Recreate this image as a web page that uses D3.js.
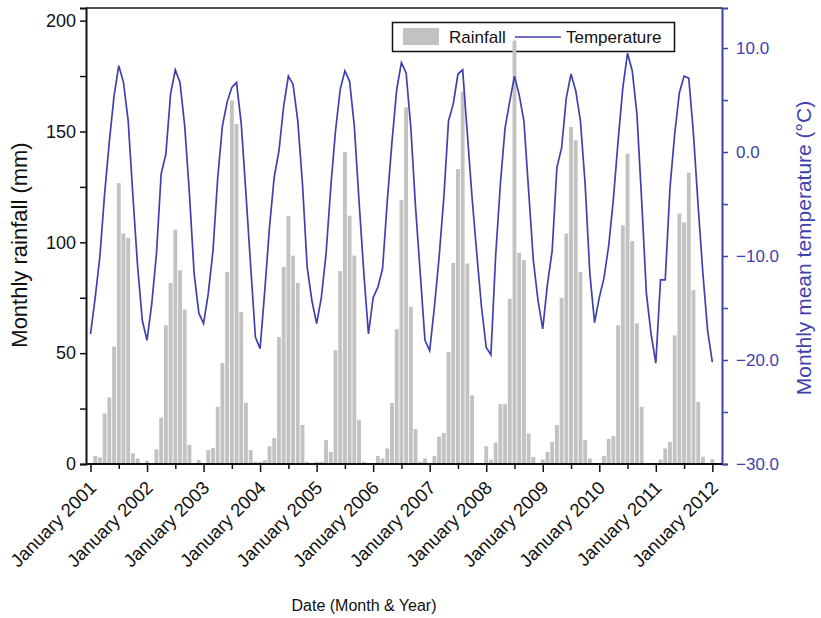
<!DOCTYPE html>
<html>
<head>
<meta charset="utf-8">
<script src="https://cdn.jsdelivr.net/npm/d3@7"></script>
<style>
  body { margin: 0; background: #fff; }
  text { font-family: "Liberation Sans", Arial, sans-serif; }
</style>
</head>
<body>
<svg id="chart"></svg>
<script>
// years shown on the x axis (one label each January)
const years = [2001, 2002, 2003, 2004, 2005, 2006, 2007, 2008, 2009, 2010, 2011, 2012];

// monthly rainfall (mm), Jan 2001 .. Jan 2012
const rainfall = [
  0, 3.6, 3, 22.8, 30, 53, 126.7, 104, 102, 4.8, 2.5, 0,
  1.5, 0, 6.6, 20.9, 62.6, 81.7, 105.7, 87.4, 69.7, 8.6, 0, 1.8,
  0, 6.3, 7.2, 25.8, 45.6, 86.6, 164, 153.4, 68.6, 27.6, 6.3, 1,
  1, 1.8, 8, 11.7, 57.3, 88.9, 112, 94, 81.7, 17.6, 1, 0,
  1, 1, 10.8, 5.5, 51.3, 87, 140.7, 112, 94, 19.8, 1, 0,
  0, 3.6, 2.5, 7, 27.5, 60.8, 119, 160.9, 70.9, 15.8, 1, 2.5,
  0, 3.6, 12.3, 14, 50.5, 90.7, 133, 168, 90.4, 31, 0, 0.5,
  8, 2, 9.6, 27, 27, 74.6, 191, 95.3, 92, 13.8, 3.2, 0,
  2, 5.5, 10, 17.6, 75, 104, 152, 146, 86.6, 10.8, 2.5, 0,
  0, 3.6, 11.3, 12.6, 62.6, 107.7, 140, 100.5, 63.4, 25.8, 0, 0,
  0, 2, 7, 10, 58, 113, 109, 131.4, 78.4, 28, 3.3, 0,
  2.2
];

// monthly mean temperature (°C), Jan 2001 .. Jan 2012
const temperature = [
  -17.5, -14.0, -10.0, -4.0, 1.0, 5.4, 8.3, 6.7, 3.0, -4.2, -11.0, -16.2,
  -18.1, -14.6, -9.8, -2.1, -0.2, 5.6, 7.9, 6.7, 2.5, -4.0, -11.7, -15.5,
  -16.5, -13.6, -9.5, -2.5, 2.5, 4.8, 6.2, 6.7, 2.7, -4.0, -11.0, -17.8,
  -18.9, -13.3, -7.2, -2.4, 0.1, 4.4, 7.3, 6.5, 3.0, -3.1, -11.1, -14.3,
  -16.5, -14.0, -9.8, -3.4, 2.0, 6.0, 7.8, 6.8, 2.5, -4.7, -11.5, -17.5,
  -14.0, -13.0, -11.2, -4.7, 1.0, 6.0, 8.6, 7.6, 2.3, -5.3, -11.7, -18.1,
  -19.1, -14.9, -10.1, -4.4, 3.0, 4.6, 7.5, 7.9, 1.7, -4.4, -9.8, -14.9,
  -18.8, -19.5, -10.0, -3.1, 2.3, 4.9, 7.3, 5.5, 3.0, -3.7, -10.4, -14.3,
  -17.0, -12.7, -9.5, -1.5, 0.4, 5.2, 7.5, 5.9, 3.0, -3.1, -11.7, -16.4,
  -14.0, -12.1, -9.0, -4.5, 1.1, 6.2, 9.5, 7.8, 3.6, -4.7, -13.6, -17.5,
  -20.3, -12.3, -12.3, -3.5, 1.7, 5.7, 7.3, 7.1, 1.7, -5.3, -11.7, -17.2,
  -20.2
];

const rainTicks = [0, 50, 100, 150, 200];
const tempTicks = [-30, -20, -10, 0, 10];

const svg = d3.select("#chart")
    .attr("width", 821)
    .attr("height", 618);

const plotLeft = 86, plotRight = 722, plotTop = 8, plotBottom = 464;
const blue = "#4141ae";

// month index 0 = January 2001
const x = d3.scaleLinear().domain([-0.955, 134.05]).range([plotLeft, plotRight]);
const yRain = d3.scaleLinear().domain([0, 205.7]).range([plotBottom, plotTop]);
const yTemp = d3.scaleLinear().domain([-30, 13.85]).range([plotBottom, plotTop]);

// legend (drawn first, the tall 2008 bar runs over it)
const legend = svg.append("g");
legend.append("rect")
    .attr("x", 392.5).attr("y", 22.5)
    .attr("width", 282).attr("height", 29)
    .style("fill", "white").style("stroke", "#111").style("stroke-width", 1.5);
legend.append("rect")
    .attr("x", 403).attr("y", 28)
    .attr("width", 36).attr("height", 17)
    .style("fill", "#c2c2c0");
legend.append("text")
    .attr("x", 449).attr("y", 43)
    .style("font-size", "17px").style("fill", "#111")
    .text("Rainfall");
legend.append("line")
    .attr("x1", 515).attr("x2", 561).attr("y1", 37).attr("y2", 37)
    .style("stroke", blue).style("stroke-width", 1.6);
legend.append("text")
    .attr("x", 566).attr("y", 43)
    .style("font-size", "17px").style("fill", "#111")
    .text("Temperature");

// bars
const bw = (x(1) - x(0)) * 0.82;
svg.append("g").selectAll("rect")
    .data(rainfall)
    .join("rect")
    .attr("x", (d, i) => x(i) - bw / 2)
    .attr("y", d => yRain(d))
    .attr("width", bw)
    .attr("height", d => plotBottom - yRain(d))
    .style("fill", "#c2c2c0");

// temperature line
const line = d3.line()
    .x((d, i) => x(i))
    .y(d => yTemp(d));

svg.append("path")
    .datum(temperature)
    .attr("d", line)
    .style("fill", "none")
    .style("stroke", blue)
    .style("stroke-width", 1.7);

// left axis
const leftAxis = svg.append("g")
    .attr("transform", `translate(${plotLeft},0)`)
    .call(d3.axisLeft(yRain).tickValues(d3.range(0, 201, 25)).tickSize(6)
        .tickFormat(d => rainTicks.includes(d) ? d : ""));
leftAxis.select(".domain").style("stroke", "#111").style("stroke-width", 2);
leftAxis.selectAll(".tick line").style("stroke", "#111").style("stroke-width", 1.5);
leftAxis.selectAll(".tick text")
    .style("font-size", "18px").style("fill", "#111")
    .attr("x", -10);
leftAxis.attr("font-family", null);

// right axis
const rightAxis = svg.append("g")
    .attr("transform", `translate(${plotRight},0)`)
    .call(d3.axisRight(yTemp).tickValues(d3.range(-30, 11, 5)).tickSize(6)
        .tickFormat(d => tempTicks.includes(d) ? d3.format(".1f")(d) : ""));
rightAxis.select(".domain").style("stroke", blue).style("stroke-width", 2);
rightAxis.selectAll(".tick line").style("stroke", blue).style("stroke-width", 1.5);
rightAxis.selectAll(".tick text")
    .style("font-size", "17px").style("fill", blue)
    .attr("x", 14);
rightAxis.attr("font-family", null);

// bottom axis, ticks every 6 months
const monthTicks = d3.range(0, 133, 6);
const bottomAxis = svg.append("g")
    .attr("transform", `translate(0,${plotBottom})`)
    .call(d3.axisBottom(x).tickValues(monthTicks).tickSize(7).tickFormat(""));
bottomAxis.select(".domain").remove();
bottomAxis.selectAll(".tick line").style("stroke", "#111").style("stroke-width", 1.5)
    .attr("y2", d => d % 12 === 0 ? 8 : 5);
svg.append("line")
    .attr("x1", plotLeft).attr("x2", plotRight).attr("y1", plotBottom).attr("y2", plotBottom)
    .style("stroke", "#111").style("stroke-width", 2);

// year labels, slanted
svg.append("g").selectAll("text")
    .data(years)
    .join("text")
    .attr("transform", (d, i) => `translate(${x(i * 12) + 7},${plotBottom + 25}) rotate(-45)`)
    .attr("text-anchor", "end")
    .style("font-size", "18.5px").style("fill", "#111")
    .text(d => "January " + d);

// top frame
svg.append("line")
    .attr("x1", plotLeft).attr("x2", plotRight).attr("y1", plotTop).attr("y2", plotTop)
    .style("stroke", "#111").style("stroke-width", 1.5);

// axis titles
svg.append("text")
    .attr("transform", `translate(27,${(plotTop + plotBottom) / 2 + 9}) rotate(-90)`)
    .attr("text-anchor", "middle")
    .style("font-size", "22px").style("fill", "#111")
    .text("Monthly rainfall (mm)");

svg.append("text")
    .attr("transform", `translate(811,${(plotTop + plotBottom) / 2 + 12}) rotate(-90)`)
    .attr("text-anchor", "middle")
    .style("font-size", "21px").style("fill", blue)
    .text("Monthly mean temperature (°C)");

svg.append("text")
    .attr("x", 364).attr("y", 611)
    .attr("text-anchor", "middle")
    .style("font-size", "16px").style("fill", "#111")
    .text("Date (Month & Year)");
</script>
</body>
</html>
